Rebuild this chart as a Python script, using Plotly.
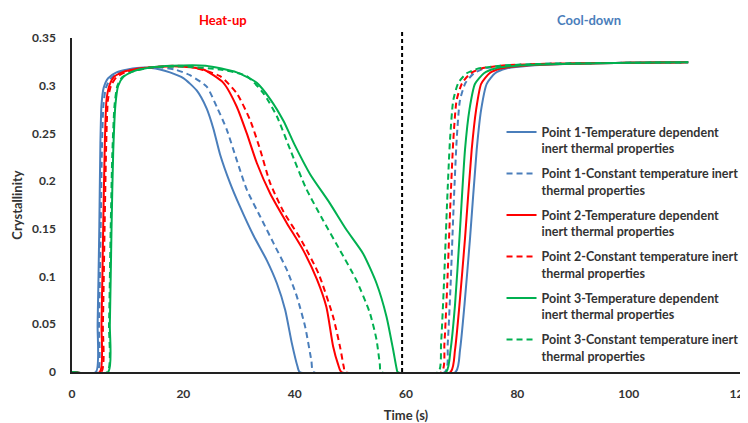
import plotly.graph_objects as go

# ---- data ----
t_p1_td = [0, 4.3, 4.6, 4.9, 5.1, 5.3, 5.7, 6.5, 8, 10, 13, 15.8, 17.6, 20.0, 22.4, 24.2, 25.4, 26.6, 28.4, 30.2, 32.6,
           35.0, 36.8, 38.3, 39.5, 40.5, 40.9, 68.9, 69.7, 70.5, 71.5, 72.7, 73.5, 74.5, 76, 78, 82, 90, 100, 110.7]
c_p1_td = [0, 0, 0.05, 0.15, 0.24, 0.28, 0.298, 0.308, 0.314, 0.317, 0.319, 0.317, 0.314, 0.308, 0.295, 0.276, 0.255,
           0.228, 0.198, 0.173, 0.143, 0.117, 0.093, 0.065, 0.030, 0.006, 0, 0, 0.023, 0.07, 0.14, 0.233, 0.275, 0.302,
           0.313, 0.318, 0.321, 0.323, 0.324, 0.3245]

t_p1_c = [0, 4.55, 4.85, 5.15, 5.4, 5.65, 6.1, 7, 9, 12, 16, 18.5, 21.2, 24.2, 26, 27.8, 29.6, 31.4, 33.8, 36.2, 38.6,
          40.4, 41.9, 43.0, 43.4, 67.0, 67.5, 68.0, 68.6, 69.1, 69.7, 70.7, 72.2, 74, 78, 85, 100, 110.7]
c_p1_c = [0, 0, 0.05, 0.15, 0.24, 0.28, 0.298, 0.308, 0.315, 0.318, 0.319, 0.317, 0.311, 0.299, 0.278, 0.254, 0.222,
          0.191, 0.163, 0.135, 0.107, 0.079, 0.047, 0.012, 0, 0, 0.03, 0.09, 0.18, 0.243, 0.285, 0.303, 0.313, 0.318,
          0.321, 0.323, 0.324, 0.3245]

t_p2_td = [0, 5.0, 5.3, 5.6, 5.9, 6.2, 6.7, 7.5, 9, 12, 16, 20, 23.6, 27.2, 29.6, 31.4, 33.2, 35.6, 38.6, 41.5, 44.0,
           45.7, 46.9, 47.8, 48.4, 68.0, 68.8, 69.6, 70.6, 71.8, 72.6, 73.5, 75, 77, 81, 90, 100, 110.7]
c_p2_td = [0, 0, 0.05, 0.15, 0.24, 0.285, 0.300, 0.309, 0.314, 0.318, 0.320, 0.320, 0.317, 0.303, 0.278, 0.250, 0.219,
           0.187, 0.156, 0.128, 0.097, 0.068, 0.027, 0.008, 0, 0, 0.023, 0.07, 0.14, 0.233, 0.275, 0.302, 0.313, 0.318,
           0.321, 0.323, 0.324, 0.3245]

t_p2_c = [0, 5.25, 5.55, 5.85, 6.15, 6.45, 7, 8, 10, 14, 18, 21.2, 26.6, 29.6, 32, 33.8, 35.6, 38.0, 41.2, 44.3, 46.9,
          48.2, 48.8, 49.1, 66.4, 66.9, 67.4, 68.0, 68.5, 69.1, 70.1, 71.6, 73.5, 77, 85, 100, 110.7]
c_p2_c = [0, 0, 0.05, 0.15, 0.24, 0.285, 0.300, 0.309, 0.315, 0.319, 0.321, 0.320, 0.310, 0.292, 0.264, 0.233, 0.198,
          0.168, 0.138, 0.103, 0.058, 0.025, 0.006, 0, 0, 0.03, 0.09, 0.18, 0.243, 0.285, 0.303, 0.313, 0.318, 0.321,
          0.323, 0.324, 0.3245]

t_p3_td = [0, 6.5, 6.8, 7.1, 7.4, 7.8, 8.3, 9.2, 11, 14, 18, 24, 29.6, 33.2, 35.6, 38, 40.0, 42.8, 46.3, 49.3, 52.3,
           54.7, 56.5, 57.7, 58.3, 58.5, 67.2, 68.0, 68.8, 69.6, 70.6, 71.4, 72.4, 74, 76, 80, 90, 100, 110.7]
c_p3_td = [0, 0, 0.05, 0.15, 0.23, 0.28, 0.300, 0.309, 0.315, 0.319, 0.321, 0.321, 0.314, 0.303, 0.286, 0.263, 0.238,
           0.207, 0.177, 0.149, 0.124, 0.093, 0.058, 0.023, 0.004, 0, 0, 0.023, 0.07, 0.14, 0.233, 0.275, 0.302, 0.313,
           0.318, 0.321, 0.323, 0.324, 0.3245]

t_p3_c = [0, 6.35, 6.65, 6.95, 7.25, 7.65, 8.15, 9, 11, 14, 20, 26.6, 31.4, 34.4, 36.8, 39.2, 42.0, 45.1, 48.1, 51.1,
          53.5, 54.7, 55.3, 55.5, 65.8, 66.3, 66.8, 67.4, 67.9, 68.5, 69.4, 70.9, 73, 77, 85, 100, 110.7]
c_p3_c = [0, 0, 0.05, 0.15, 0.23, 0.28, 0.300, 0.309, 0.315, 0.319, 0.320, 0.317, 0.310, 0.292, 0.268, 0.233, 0.193,
          0.159, 0.128, 0.096, 0.062, 0.034, 0.008, 0, 0, 0.03, 0.09, 0.18, 0.243, 0.285, 0.303, 0.313, 0.318, 0.321,
          0.323, 0.324, 0.3245]

series_names = [
    "Point 1-Temperature dependent<br>inert thermal properties",
    "Point 1-Constant temperature inert<br>thermal properties",
    "Point 2-Temperature dependent<br>inert thermal properties",
    "Point 2-Constant temperature inert<br>thermal properties",
    "Point 3-Temperature dependent<br>inert thermal properties",
    "Point 3-Constant temperature inert<br>thermal properties",
]
x_tick_vals = [0, 20, 40, 60, 80, 100, 120]
x_tick_text = ["0", "20", "40", "60", "80", "100", "120"]
y_tick_vals = [0, 0.05, 0.1, 0.15, 0.2, 0.25, 0.3, 0.35]
y_tick_text = ["0", "0.05", "0.1", "0.15", "0.2", "0.25", "0.3", "0.35"]
switch_time = 59.3

# ---- styling ----
BLUE = "#4a7ebb"
RED = "#ff0000"
GREEN = "#00b050"
FONT = "Lato"
TXT = "#333333"

xs = [t_p1_td, t_p1_c, t_p2_td, t_p2_c, t_p3_td, t_p3_c]
ys = [c_p1_td, c_p1_c, c_p2_td, c_p2_c, c_p3_td, c_p3_c]
colors = [BLUE, BLUE, RED, RED, GREEN, GREEN]
dashes = ["solid", "6px,4px", "solid", "6px,4px", "solid", "6px,4px"]

fig = go.Figure()
for i in range(6):
    fig.add_trace(go.Scatter(
        x=xs[i], y=ys[i], mode="lines", name=series_names[i],
        line=dict(color=colors[i], width=2, dash=dashes[i], shape="spline", smoothing=0.6),
        legendgroup=str(i),
    ))

fig.add_shape(type="line", xref="x", yref="paper", x0=switch_time, x1=switch_time, y0=0, y1=1.025,
              line=dict(color="black", width=2, dash="4px,3px"))

fig.add_annotation(text="Heat-up", x=27.2, y=1.054, xref="x", yref="paper", showarrow=False,
                   xanchor="center", yanchor="middle",
                   font=dict(family=FONT, size=13, color=RED, weight="bold"))
fig.add_annotation(text="Cool-down", x=92.9, y=1.054, xref="x", yref="paper", showarrow=False,
                   xanchor="center", yanchor="middle",
                   font=dict(family=FONT, size=13, color=BLUE, weight="bold"))

fig.update_layout(
    width=748, height=423,
    margin=dict(l=64, r=16, t=30, b=59, autoexpand=False),
    paper_bgcolor="white", plot_bgcolor="white",
    font=dict(family=FONT, size=12, color=TXT),
    showlegend=True,
    legend=dict(x=0.643, y=0.762, xanchor="left", yanchor="top", valign="top",
                font=dict(family=FONT, size=12.5, color=TXT, weight="bold"),
                tracegroupgap=6, bgcolor="rgba(0,0,0,0)"),
    xaxis=dict(range=[0, 120], tickvals=x_tick_vals, ticktext=x_tick_text, showgrid=False, zeroline=False,
               showline=True, linecolor="#222222", linewidth=1.5, ticks="", ticklabelstandoff=10,
               tickfont=dict(family=FONT, size=12, color=TXT, weight="bold"),
               title=dict(text="Time (s)", font=dict(family=FONT, size=13, color=TXT, weight="bold"),
                          standoff=11)),
    yaxis=dict(range=[0, 0.35], tickvals=y_tick_vals, ticktext=y_tick_text, showgrid=False, zeroline=False,
               showline=True, linecolor="#222222", linewidth=1.5, ticks="", ticklabelstandoff=12,
               tickfont=dict(family=FONT, size=12, color=TXT, weight="bold"),
               title=dict(text="Crystallinity", font=dict(family=FONT, size=13, color=TXT, weight="bold"),
                          standoff=7)),
)

fig.write_html("out.html")
